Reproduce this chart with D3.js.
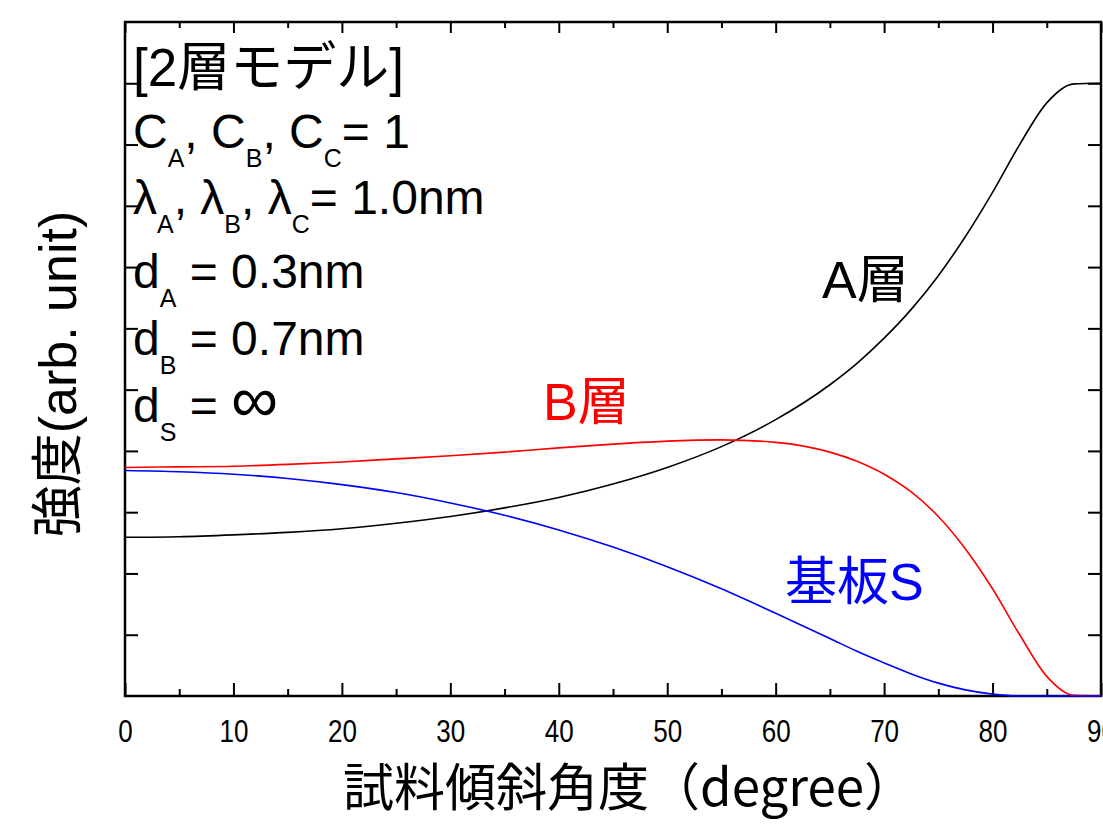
<!DOCTYPE html>
<html>
<head>
<meta charset="utf-8">
<script src="https://cdn.jsdelivr.net/npm/d3@7"></script>
<style>
  html, body { margin: 0; padding: 0; background: #fff; overflow: hidden; }
  svg { display: block; }
  .tick text { font-family: "Liberation Sans Narrow", "Liberation Sans", sans-serif; font-size: 31px; fill: #000; }
</style>
</head>
<body>
<svg id="chart" width="1103" height="827"></svg>
<script>
// tilt angle (degree)
const angles = [0, 5, 10, 15, 20, 25, 30, 35, 40, 45, 50, 55, 60, 65, 67.5, 70, 72.5, 75, 77.5, 80, 82.5, 85, 87.5, 90];
// intensity (1.0 = top plateau of A)
const layerA    = [0.259, 0.260, 0.263, 0.267, 0.273, 0.282, 0.293, 0.307, 0.324, 0.346, 0.373, 0.407, 0.451, 0.508, 0.543, 0.584, 0.631, 0.686, 0.750, 0.822, 0.900, 0.968, 0.999, 1.000];
const layerB    = [0.373, 0.374, 0.375, 0.378, 0.382, 0.387, 0.392, 0.398, 0.405, 0.411, 0.416, 0.418, 0.414, 0.398, 0.383, 0.362, 0.333, 0.293, 0.240, 0.175, 0.100, 0.032, 0.001, 0.000];
const substrate = [0.368, 0.366, 0.362, 0.355, 0.345, 0.332, 0.315, 0.295, 0.271, 0.243, 0.211, 0.175, 0.135, 0.094, 0.073, 0.054, 0.036, 0.021, 0.010, 0.003, 0.000, 0.000, 0.000, 0.000];

const majorTicks = [0, 10, 20, 30, 40, 50, 60, 70, 80, 90];
const minorTicks = [5, 15, 25, 35, 45, 55, 65, 75, 85];
const yTicks = [0.1, 0.2, 0.3, 0.4, 0.5, 0.6, 0.7, 0.8, 0.9, 1.0];

const seriesLabels = [
  { name: "A層", values: layerA, color: "#000000", lx: 822, ly: 298 },
  { name: "B層", values: layerB, color: "#ff0000", lx: 543, ly: 420 },
  { name: "基板S", values: substrate, color: "#0000ff", lx: 785, ly: 600 }
];

// model parameters box: [text, subscript?, font size]
const noteLines = [
  [["[2層モデル]", 0, 53]],
  [["C"], ["A", 1], [", C"], ["B", 1], [", C"], ["C", 1], ["= 1"]],
  [["λ"], ["A", 1], [", λ"], ["B", 1], [", λ"], ["C", 1], ["= 1.0nm"]],
  [["d"], ["A", 1], [" = 0.3nm"]],
  [["d"], ["B", 1], [" = 0.7nm"]],
  [["d"], ["S", 1], [" = "], ["∞", 0, 66]]
];
const noteBaselines = [86, 148, 214, 288, 355, 422];

const svg = d3.select("#chart");
const plotL = 125, plotR = 1101, plotT = 22, plotB = 696;

const x = d3.scaleLinear().domain([0, 90]).range([plotL, plotR]);
const y = d3.scaleLinear().domain([0, 1.1]).range([plotB, plotT]);

// bottom axis (ticks point inward)
svg.append("g")
  .attr("transform", `translate(0,${plotB})`)
  .call(d3.axisBottom(x).tickValues(majorTicks).tickSize(-13).tickPadding(24).tickFormat(d3.format("d")))
  .call(g => g.select(".domain").remove())
  .call(g => g.selectAll("line").attr("stroke-width", 2))
  .call(g => g.selectAll("text").attr("transform", "scale(0.84,1)"));
svg.append("g")
  .attr("transform", `translate(0,${plotB})`)
  .call(d3.axisBottom(x).tickValues(minorTicks).tickSize(-7).tickFormat(""))
  .call(g => g.select(".domain").remove())
  .call(g => g.selectAll("line").attr("stroke-width", 2));

// top axis
svg.append("g")
  .attr("transform", `translate(0,${plotT})`)
  .call(d3.axisTop(x).tickValues(majorTicks).tickSize(-11).tickFormat(""))
  .call(g => g.select(".domain").remove())
  .call(g => g.selectAll("line").attr("stroke-width", 2));
svg.append("g")
  .attr("transform", `translate(0,${plotT})`)
  .call(d3.axisTop(x).tickValues(minorTicks).tickSize(-6).tickFormat(""))
  .call(g => g.select(".domain").remove())
  .call(g => g.selectAll("line").attr("stroke-width", 2));

// left and right axes
svg.append("g")
  .attr("transform", `translate(${plotL},0)`)
  .call(d3.axisLeft(y).tickValues(yTicks).tickSize(-13).tickFormat(""))
  .call(g => g.select(".domain").remove())
  .call(g => g.selectAll("line").attr("stroke-width", 2));
svg.append("g")
  .attr("transform", `translate(${plotR},0)`)
  .call(d3.axisRight(y).tickValues(yTicks).tickSize(-13).tickFormat(""))
  .call(g => g.select(".domain").remove())
  .call(g => g.selectAll("line").attr("stroke-width", 2));

// frame
svg.append("rect")
  .attr("x", plotL).attr("y", plotT)
  .attr("width", plotR - plotL).attr("height", plotB - plotT)
  .attr("fill", "none").attr("stroke", "#000").attr("stroke-width", 2.5);

// curves
const line = d3.line()
  .x((d, i) => x(angles[i]))
  .y(d => y(d))
  .curve(d3.curveMonotoneX);

seriesLabels.forEach(s => {
  svg.append("path")
    .datum(s.values)
    .attr("d", line)
    .attr("fill", "none")
    .attr("stroke", s.color)
    .attr("stroke-width", 1.6);

  svg.append("text")
    .attr("x", s.lx).attr("y", s.ly)
    .attr("fill", s.color)
    .style("font-family", '"Liberation Sans", "Noto Sans CJK JP", sans-serif')
    .style("font-size", "52px")
    .text(s.name);
});

// parameter notes
noteLines.forEach((parts, i) => {
  const t = svg.append("text")
    .attr("x", 133).attr("y", noteBaselines[i])
    .style("font-family", '"Liberation Sans", "Noto Sans CJK JP", sans-serif')
    .style("font-size", "48px");
  let shifted = false;
  parts.forEach(([txt, sub, size]) => {
    const ts = t.append("tspan").text(txt);
    if (size) ts.style("font-size", size + "px");
    if (sub) {
      ts.style("font-size", "25px");
      if (!shifted) { ts.attr("dy", 19); shifted = true; }
    } else if (shifted) { ts.attr("dy", -19); shifted = false; }
  });
});

// axis titles
svg.append("text")
  .attr("x", 343).attr("y", 806)
  .attr("textLength", 572).attr("lengthAdjust", "spacingAndGlyphs")
  .style("font-family", '"Liberation Sans Narrow", "Noto Sans CJK JP", sans-serif')
  .style("font-size", "51px")
  .text("試料傾斜角度（degree）");

svg.append("text")
  .attr("transform", "translate(76,374) rotate(-90)")
  .attr("text-anchor", "middle")
  .style("font-family", '"Liberation Sans", "Noto Sans CJK JP", sans-serif')
  .style("font-size", "52px")
  .text("強度(arb. unit)");
</script>
</body>
</html>
